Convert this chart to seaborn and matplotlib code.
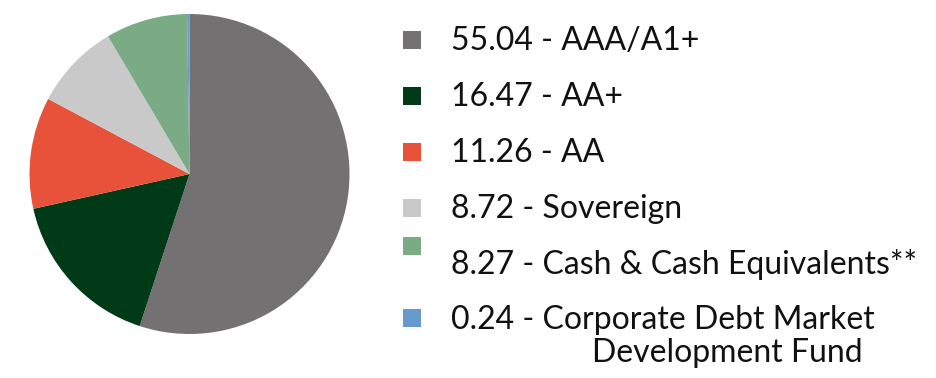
import numpy as np
import matplotlib.pyplot as plt
import seaborn as sns
from matplotlib.patches import Rectangle

sns.set_theme(style="white")
plt.rcParams['font.family'] = ['Lato', 'DejaVu Sans']

values = [55.04, 16.47, 11.26, 8.72, 8.27, 0.24]
labels = ['AAA/A1+', 'AA+', 'AA', 'Sovereign', 'Cash & Cash Equivalents**',
          'Corporate Debt Market\nDevelopment Fund']
colors = ['#737172', '#003a17', '#e8523a', '#c9c9c9', '#7aab84', '#6699cc']

W, H = 937, 378
fig = plt.figure(figsize=(W / 100, H / 100), dpi=100)

# pie
ax = fig.add_axes([(189.5 - 160) / W, (H - 334) / H, 320 / W, 320 / H])
ax.pie(values, colors=colors, startangle=90, counterclock=False,
       radius=1.0, wedgeprops=dict(linewidth=0))
ax.set_xlim(-1, 1)
ax.set_ylim(-1, 1)
ax.set_aspect('equal')
ax.axis('off')

# legend drawn by hand (uneven rows as in the source)
lg = fig.add_axes([0, 0, 1, 1])
lg.set_xlim(0, W)
lg.set_ylim(H, 0)
lg.axis('off')

marker_y = [40, 96, 152, 208, 246, 318]
text_y = [41, 97, 153, 209, 265, 320]
for v, lab, c, my, ty in zip(values, labels, colors, marker_y, text_y):
    lg.add_patch(Rectangle((403, my - 9), 18, 18, color=c, lw=0))
    first, *rest = lab.split('\n')
    lg.text(451, ty, f'{v:.2f} - {first}', fontsize=23, va='center',
            ha='left', color='#111111')
    for i, line in enumerate(rest):
        lg.text(592, ty + 33 * (i + 1), line, fontsize=23, va='center',
                ha='left', color='#111111')

fig.savefig('out.png', dpi=100)
